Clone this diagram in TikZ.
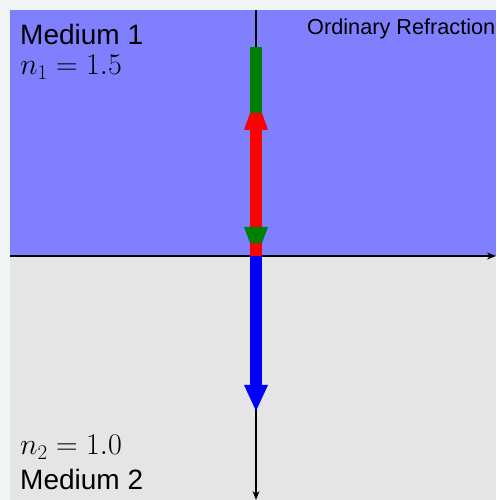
\documentclass[tikz,border=0pt]{standalone}
\usepackage{fix-cm}
\usepackage{amsmath}
\usepackage{fontspec}
\setmainfont{Liberation Sans}
\usepackage{tikz}
\usetikzlibrary{arrows.meta}
\definecolor{PageTint}{RGB}{240,244,243}
\definecolor{MediumBlue}{RGB}{128,128,255}
\definecolor{MediumGray}{RGB}{229,229,229}
\definecolor{RayGreen}{RGB}{0,128,0}
\definecolor{RayRed}{RGB}{255,0,0}
\definecolor{RayBlue}{RGB}{0,0,255}

\begin{document}
\begin{tikzpicture}[x=1pt,y=1pt,every node/.style={inner sep=0pt,anchor=base west},
  axis/.style={line width=1.3pt,-{Stealth[length=9pt,width=7pt]}}]
\fill[PageTint] (0,0) rectangle (496,500);
\useasboundingbox (0,0) rectangle (496,500);
% the two media
\fill[MediumBlue] (10,244) rectangle (496,490);
\fill[MediumGray] (10,0) rectangle (496,244);
\draw[axis] (10,244) -- (496,244);
\draw[axis] (256,490) -- (256,0);
% reflected ray
\fill[RayRed] (250,244) rectangle (262,370);
\fill[RayRed] (244,370) -- (268,370) -- (262,387) -- (250,387) -- cycle;
% incident ray
\fill[RayGreen] (250,387) rectangle (262,453);
\fill[RayGreen] (244,273) -- (268,273) -- (262,257) -- (250,257) -- cycle;
% transmitted ray
\fill[RayBlue] (250,244) rectangle (262,115);
\fill[RayBlue] (244,115) -- (268,115) -- (256,89) -- cycle;
% labels
\node[font=\fontsize{28}{32}\selectfont] (m1) at (20,455) {Medium 1};
\node[font=\fontsize{30}{34}\selectfont] (n1) at (20,425) {$n_1 = 1.5$};
\node[font=\fontsize{21.7}{26}\selectfont] (title) at (307,465) {Ordinary Refraction};
\node[font=\fontsize{30}{34}\selectfont] (n2) at (20,45) {$n_2 = 1.0$};
\node[font=\fontsize{28}{32}\selectfont] (m2) at (20,10) {Medium 2};
\end{tikzpicture}
\end{document}
